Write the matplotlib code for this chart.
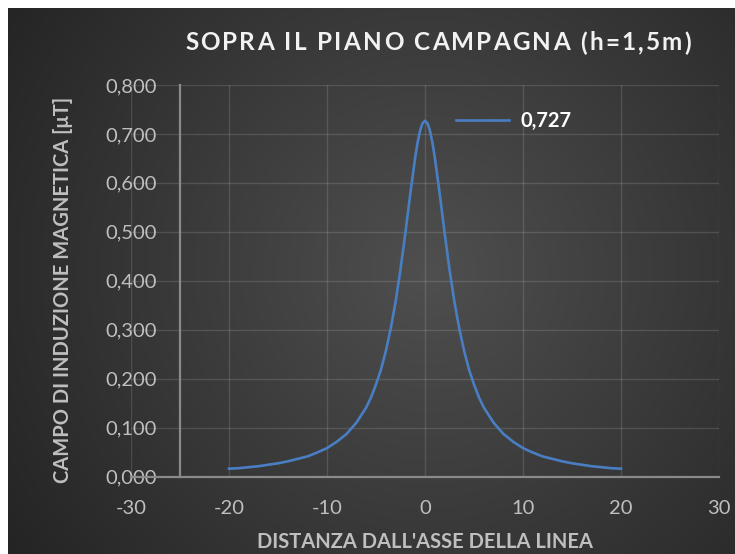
import numpy as np
import matplotlib.pyplot as plt
from matplotlib.ticker import FuncFormatter, MultipleLocator

# distanza dall'asse [m] e campo [uT]
distanza = [-20, -19, -18, -17, -16, -15, -14, -13, -12, -11, -10, -9, -8, -7,
            -6, -5.5, -5, -4.5, -4, -3.5, -3, -2.5, -2, -1.5, -1, -0.75, -0.5,
            -0.25, 0, 0.25, 0.5, 0.75, 1, 1.5, 2, 2.5, 3, 3.5, 4, 4.5, 5, 5.5, 6,
            7, 8, 9, 10, 11, 12, 13, 14, 15, 16, 17, 18, 19, 20]
campo = [0.016, 0.017, 0.019, 0.021, 0.024, 0.027, 0.031, 0.036, 0.041, 0.049,
         0.058, 0.071, 0.087, 0.110, 0.141, 0.162, 0.188, 0.218, 0.256, 0.302,
         0.357, 0.423, 0.498, 0.578, 0.652, 0.683, 0.707, 0.722, 0.727,
         0.722, 0.707, 0.683, 0.652, 0.578, 0.498, 0.423, 0.357, 0.302, 0.256,
         0.218, 0.188, 0.162, 0.141, 0.110, 0.087, 0.071, 0.058, 0.049, 0.041,
         0.036, 0.031, 0.027, 0.024, 0.021, 0.019, 0.017, 0.016]
serie = "0,727"
titolo = "SOPRA IL PIANO CAMPAGNA (h=1,5m)"
xlab = "DISTANZA DALL'ASSE DELLA LINEA"
ylab = "CAMPO DI INDUZIONE MAGNETICA [\u03bcT]"

FONT = ['Lato', 'DejaVu Sans']
W, H = 735, 554
fig = plt.figure(figsize=(W / 100, H / 100), dpi=100)
fig.patch.set_facecolor('white')

# sfondo con gradiente radiale (stile Excel)
bg = fig.add_axes([8 / W, 0, 1 - 8 / W, 1 - 8 / H])
bg.set_axis_off()
gx, gy = np.meshgrid(np.linspace(0, 1, 400), np.linspace(0, 1, 300))
r = np.sqrt(((gx - 0.58) * 1.35) ** 2 + (gy - 0.48) ** 2)
r = np.clip(r / r.max(), 0, 1)
c0, c1 = 0x4f / 255, 0x24 / 255
img = c0 + (c1 - c0) * r
bg.imshow(np.dstack([img, img, img]), aspect='auto', extent=[0, 1, 0, 1])

ax = fig.add_axes([131 / W, 1 - 476.5 / H, 588 / W, 391.5 / H])
ax.patch.set_alpha(0)
ax.plot(distanza, campo, color='#4a7ec3', lw=1.9, label=serie, zorder=3,
        solid_joinstyle='round')

ax.set_xlim(-30, 30)
ax.set_ylim(0, 0.8)
ax.xaxis.set_major_locator(MultipleLocator(10))
ax.yaxis.set_major_locator(MultipleLocator(0.1))
ax.yaxis.set_major_formatter(FuncFormatter(lambda v, p: f"{v:.3f}".replace('.', ',')))
ax.xaxis.set_major_formatter(FuncFormatter(lambda v, p: str(int(round(v)))))
ax.grid(color='white', alpha=0.13, lw=1.0)
ax.set_axisbelow(True)

for s in ['top', 'right']:
    ax.spines[s].set_visible(False)
ax.spines['left'].set_position(('data', -25))
for s in ['left', 'bottom']:
    ax.spines[s].set_color('#8a8a8a')
    ax.spines[s].set_linewidth(1.6)

ax.tick_params(axis='both', length=0, labelcolor='#bfbfbf', labelsize=14.5)
ax.tick_params(axis='y', pad=16.5)
ax.tick_params(axis='x', pad=17)
for t in ax.get_xticklabels() + ax.get_yticklabels():
    t.set_family(FONT)

leg = ax.legend(frameon=False, loc='center left', bbox_to_anchor=(0.553, 0.908),
                borderpad=0, borderaxespad=0, handlelength=2.6, handletextpad=0.6,
                prop={'family': FONT, 'weight': 'bold', 'size': 14.5}, labelcolor='white')

fig.text(63 / W, 1 - 290 / H, ylab, rotation=90, ha='center', va='center',
         color='#bfbfbf', fontsize=14.5, fontweight='bold', family=FONT)
fig.text(425 / W, 1 - 542 / H, xlab, ha='center', va='center',
         color='#bfbfbf', fontsize=14.5, fontweight='bold', family=FONT)


def spaced_text(fig, s, xc, y, target_w, **kw):
    rend = fig.canvas.get_renderer()

    def width(t):
        tt = fig.text(0, 0, t, **kw)
        e = tt.get_window_extent(rend).width
        tt.remove()
        return e

    ref = width('I')
    full = width(s)
    sp = (target_w - full) / (len(s) - 1)
    x0 = xc * fig.bbox.width - target_w / 2
    for i, ch in enumerate(s):
        off = width(s[:i] + 'I') - ref + i * sp
        fig.text((x0 + off) / fig.bbox.width, y, ch, **kw)


spaced_text(fig, titolo, 438 / W, 1 - 43 / H, 506, ha='left', va='center',
            color='#f2f2f2', fontsize=17.5, fontweight='bold', family=FONT)

fig.savefig('out.png', dpi=100)
